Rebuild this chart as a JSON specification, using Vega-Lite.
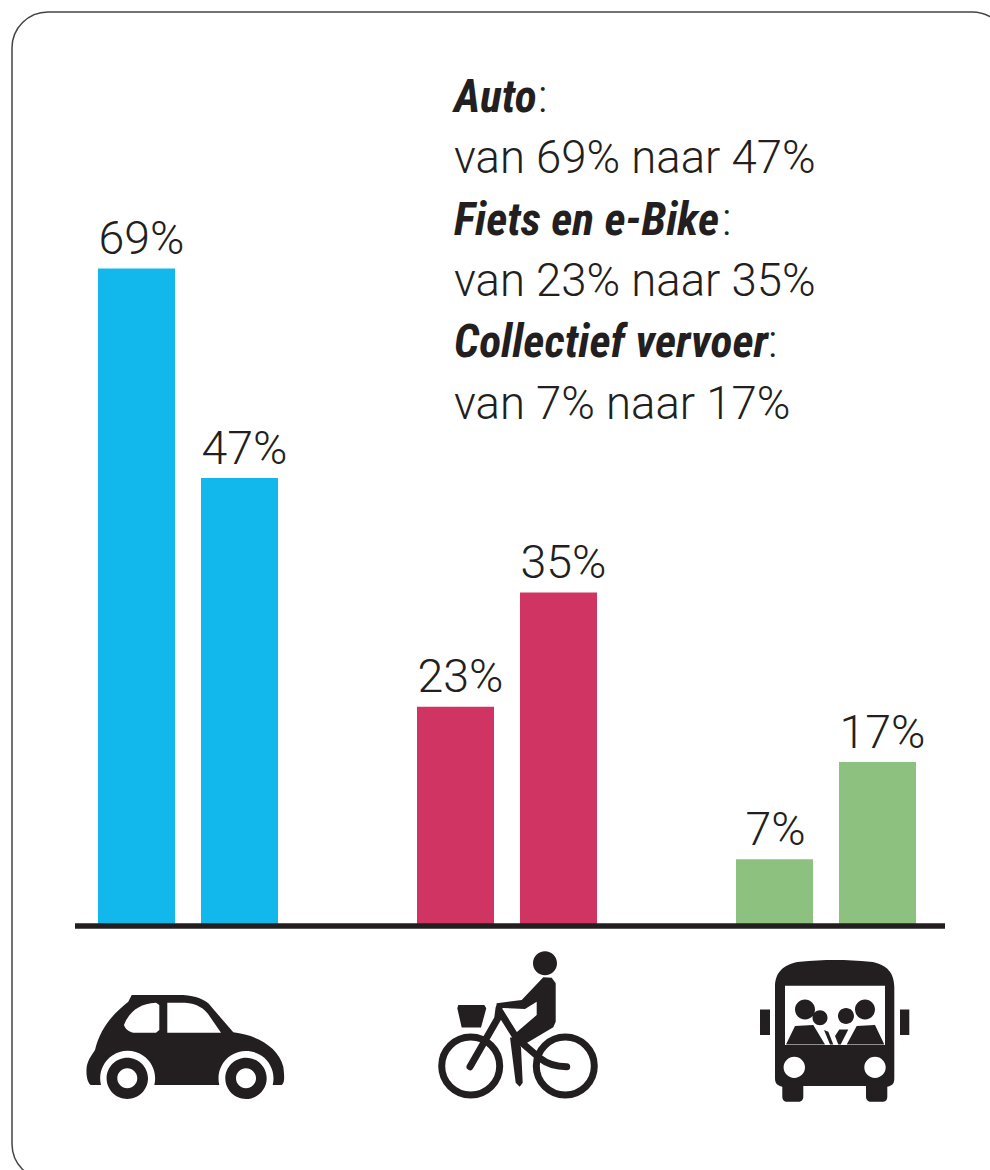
{
"$schema":"https://vega.github.io/schema/vega-lite/v6.json",
"width":996,"height":1168,
"autosize":{"type":"none"},
"padding":{"left":12,"top":12,"right":0,"bottom":0},
"background":"white",
"config":{"view":{"stroke":"#444444","strokeWidth":1.5,"cornerRadius":36,"fill":"white"}},
"datasets":{
"aandelen":[
{"vervoer":"Auto","periode":"voor","aandeel":69,"label":"69%"},
{"vervoer":"Auto","periode":"na","aandeel":47,"label":"47%"},
{"vervoer":"Fiets","periode":"voor","aandeel":23,"label":"23%"},
{"vervoer":"Fiets","periode":"na","aandeel":35,"label":"35%"},
{"vervoer":"Collectief","periode":"voor","aandeel":7,"label":"7%"},
{"vervoer":"Collectief","periode":"na","aandeel":17.2,"label":"17%"}],
"tekst":[
{"regel":1,"soort":"kop","tekst":"Auto"},
{"regel":2,"soort":"zin","tekst":"van 69% naar 47%"},
{"regel":3,"soort":"kop","tekst":"Fiets en e-Bike"},
{"regel":4,"soort":"zin","tekst":"van 23% naar 35%"},
{"regel":5,"soort":"kop","tekst":"Collectief vervoer"},
{"regel":6,"soort":"zin","tekst":"van 7% naar 17%"}]
},
"encoding":{
"x":{"field":"vervoer","type":"nominal","axis":null,"scale":{"type":"band","domain":["Auto","Fiets","Collectief"],"range":[16.5,973.5],"paddingInner":0,"paddingOuter":0}}
},
"layer":[
{"encoding":{
"y":{"type":"quantitative","axis":null,"scale":{"domain":[-26.65,95.9],"range":[1168,0],"nice":false,"zero":false}}
},
"layer":[
{"data":{"name":"aandelen"},
 "mark":{"type":"bar","cornerRadius":0},
 "encoding":{
  "xOffset":{"field":"periode","type":"nominal","scale":{"type":"band","domain":["voor","na"],"range":[69.5,249.5],"paddingInner":0.2524,"paddingOuter":0}},
  "y":{"field":"aandeel","type":"quantitative"},
  "y2":{"datum":0},
  "color":{"field":"vervoer","type":"nominal","legend":null,"scale":{"domain":["Auto","Fiets","Collectief"],"range":["#12b7ec","#cf3462","#8cc17f"]}}
 }},
{"data":{"name":"aandelen"},
 "transform":[{"filter":"datum.label !== '7%'"}],
 "mark":{"type":"text","font":"Roboto","fontWeight":300,"fontSize":46.5,"align":"center","baseline":"alphabetic","dx":5,"dy":-14.5,"color":"#231f20"},
 "encoding":{
  "xOffset":{"field":"periode","type":"nominal","scale":{"type":"band","domain":["voor","na"],"range":[69.5,249.5],"paddingInner":0.2524,"paddingOuter":0}},
  "y":{"field":"aandeel","type":"quantitative"},
  "text":{"field":"label"}
 }},
{"data":{"name":"aandelen"},
 "transform":[{"filter":"datum.label === '7%'"}],
 "mark":{"type":"text","font":"Roboto","fontWeight":300,"fontSize":46.5,"align":"center","baseline":"alphabetic","dx":1,"dy":-14.5,"color":"#231f20"},
 "encoding":{
  "xOffset":{"field":"periode","type":"nominal","scale":{"type":"band","domain":["voor","na"],"range":[69.5,249.5],"paddingInner":0.2524,"paddingOuter":0}},
  "y":{"field":"aandeel","type":"quantitative"},
  "text":{"field":"label"}
 }},
{"data":{"values":[{"van":"Auto","tot":"Collectief","nul":0}]},
 "mark":{"type":"rule","strokeWidth":5.5,"color":"#231f20","xOffset":-113,"x2Offset":119},
 "encoding":{
  "x":{"field":"van","type":"nominal"},
  "x2":{"field":"tot"},
  "y":{"field":"nul","type":"quantitative"}
 }},
{"data":{"values":[{"vervoer":"Auto","plek":-14}]},
 "mark":{"type":"point","filled":true,"size":4,"opacity":1,"color":"#231f20","strokeWidth":0,
 "shape":"M-56.3,-64.4 L-4.7,-64.4 C8.7,-63.4 15.3,-60 20.3,-56.1 L45.3,-27.1 C68.7,-24.4 90.3,-12.7 95.3,7.3 C97,20.6 96,24 93.7,25.6 L84.7,25.6 A27.5,27.5 0 1 0 31.3,25.6 L-33.7,25.6 A27.5,27.5 0 1 0 -87,25.6 L-97.3,25.6 C-101.3,22.3 -102,14 -101.3,7.3 C-99.7,-1.1 -94.7,-6.1 -93,-9.4 C-88,-31 -74.7,-46 -59.7,-57.7 Z M-81.4,18.9 a20.7,20.7 0 1 0 41.4,0 a20.7,20.7 0 1 0 -41.4,0 Z M37.3,18.9 a20.7,20.7 0 1 0 41.4,0 a20.7,20.7 0 1 0 -41.4,0 Z"},
 "encoding":{"y":{"field":"plek","type":"quantitative"}}},
{"data":{"values":[{"vervoer":"Auto","plek":-14}]},
 "mark":{"type":"point","filled":true,"size":4,"opacity":1,"color":"white","strokeWidth":0,
 "shape":"M-32,-56.7 L-28.7,-54.4 L-28.7,-29.4 L-32,-26.7 L-54.7,-26.7 C-59.7,-27.7 -63,-31 -64,-34.4 C-59.7,-46 -49.7,-56.1 -32,-56.7 Z M-20.7,-56.7 L-3,-56.7 C8.7,-56 17,-51 22,-42.7 L33,-26.7 L-20.7,-26.7 Z M-70.7,18.9 a10,10 0 1 0 20,0 a10,10 0 1 0 -20,0 Z M48,18.9 a10,10 0 1 0 20,0 a10,10 0 1 0 -20,0 Z"},
 "encoding":{"y":{"field":"plek","type":"quantitative"}}},
{"data":{"values":[{"vervoer":"Fiets","plek":-14}]},
 "mark":{"type":"point","filled":true,"size":4,"opacity":1,"color":"#231f20","strokeWidth":0,
 "shape":"M36.3,-82.1 L14.7,-59.4 L-10.3,-56.1 L-11,-51.7 L18,-50.4 L29.7,-57.7 L29.7,-44.4 L7.3,-25.1 L5.3,-19.4 L14.7,-13.4 L46.3,-32.1 L48.7,-37.7 L48.7,-76.1 L44.7,-81.7 Z M3,-22 L8.7,23.3 L12.7,27.3 L15.7,23.3 L14,-12 L10,-22 Z M-48.7,-54.4 L-22.7,-54.4 L-20.7,-51.1 L-26,-32 L-45.3,-32 L-49.7,-51.1 Z M26,-96.1 a12,12 0 1 0 24,0 a12,12 0 1 0 -24,0 Z"},
 "encoding":{"y":{"field":"plek","type":"quantitative"}}},
{"data":{"values":[{"vervoer":"Fiets","plek":-14}]},
 "mark":{"type":"point","filled":false,"size":4,"opacity":1,"stroke":"#231f20","strokeWidth":7,"strokeCap":"round","strokeJoin":"round","fill":null,
 "shape":"M-65.3,6.6 a29,29 0 1 0 58,0 a29,29 0 1 0 -58,0 Z M29.3,6.6 a29,29 0 1 0 58,0 a29,29 0 1 0 -58,0 Z M-37,7.3 L-9.3,-41 L-8,-51 M-7,-47.7 L9.7,-21.1 L33,-1.1 C41.3,5.6 49.7,7.3 59.7,7.3"},
 "encoding":{"y":{"field":"plek","type":"quantitative"}}},
{"data":{"values":[{"vervoer":"Collectief","plek":-14}]},
 "mark":{"type":"point","filled":true,"size":4,"opacity":1,"color":"#231f20","strokeWidth":0,
 "shape":"M-51,-72.7 C-51,-89.4 -39.3,-96.1 -26,-97.7 C-2.7,-100 20.7,-100 44,-97.7 C57.3,-96.1 68.3,-89.4 68.3,-72.7 L68.3,18.9 C68.3,24 67,26 61.3,27.3 L61.3,37.3 C61.3,40 60,42.3 57.3,42.3 L44.7,42.3 C42,42.3 40,40 40,37.3 L40,26.6 L-22.7,26.6 L-22.7,37.3 C-22.7,40 -24.5,42.3 -27,42.3 L-39.3,42.3 C-42,42.3 -43.7,40 -43.7,37.3 L-43.7,27.3 C-49,26 -51,24 -51,18.9 Z M-66,-50 L-56,-50 L-56,-24.4 L-66,-24.4 Z M74,-50 L83.3,-50 L83.3,-24.4 L74,-24.4 Z"},
 "encoding":{"y":{"field":"plek","type":"quantitative"}}},
{"data":{"values":[{"vervoer":"Collectief","plek":-14}]},
 "mark":{"type":"point","filled":true,"size":4,"opacity":1,"color":"white","strokeWidth":0,
 "shape":"M-41,-73.7 L59,-73.7 L59,-14.4 L-41,-14.4 Z M-42.4,7.9 a10.7,10.7 0 1 0 21.4,0 a10.7,10.7 0 1 0 -21.4,0 Z M38.3,7.9 a10.7,10.7 0 1 0 21.4,0 a10.7,10.7 0 1 0 -21.4,0 Z"},
 "encoding":{"y":{"field":"plek","type":"quantitative"}}},
{"data":{"values":[{"vervoer":"Collectief","plek":-14}]},
 "mark":{"type":"point","filled":true,"size":4,"opacity":1,"color":"#231f20","strokeWidth":0,
 "shape":"M-31,-50 a10,10 0 1 0 20,0 a10,10 0 1 0 -20,0 Z M-13.5,-41.7 a7.5,7.5 0 1 0 15,0 a7.5,7.5 0 1 0 -15,0 Z M29,-50 a10,10 0 1 0 20,0 a10,10 0 1 0 -20,0 Z M12,-43.4 a8,8 0 1 0 16,0 a8,8 0 1 0 -16,0 Z M-40,-15 L-31,-33.4 L-12.7,-34.4 L-1,-15 Z M20.7,-15 L30.7,-33.4 L49,-34.4 L58.3,-15 Z M-2,-29.4 L2.3,-27.7 L7.3,-15 L4,-15 Z M9,-23.4 L13.3,-30 L22.3,-30 L14.7,-15 L12.3,-15 Z"},
 "encoding":{"y":{"field":"plek","type":"quantitative"}}}
]},
{"data":{"name":"tekst"},
 "encoding":{
  "x":{"datum":"Fiets"},
  "y":{"field":"regel","type":"ordinal","axis":null,"scale":{"type":"point","domain":[1,2,3,4,5,6],"range":[100,406.5],"padding":0}},
  "text":{"field":"tekst"}
 },
 "layer":[
 {"transform":[{"filter":"datum.soort === 'zin'"}],
  "mark":{"type":"text","font":"Roboto","fontWeight":300,"fontSize":45.5,"align":"left","baseline":"alphabetic","dx":-53,"color":"#231f20"}},
 {"transform":[{"filter":"datum.soort === 'kop'"}],
  "mark":{"type":"text","font":"Roboto Condensed","fontWeight":"bold","fontStyle":"italic","fontSize":45.5,"align":"left","baseline":"alphabetic","dx":-53,"color":"#231f20"}},
 {"transform":[{"filter":"datum.regel === 1"},{"calculate":"':'","as":"tekst"}],
  "mark":{"type":"text","font":"Roboto","fontWeight":300,"fontSize":45.5,"align":"left","baseline":"alphabetic","dx":31,"color":"#231f20"}},
 {"transform":[{"filter":"datum.regel === 3"},{"calculate":"':'","as":"tekst"}],
  "mark":{"type":"text","font":"Roboto","fontWeight":300,"fontSize":45.5,"align":"left","baseline":"alphabetic","dx":215,"color":"#231f20"}},
 {"transform":[{"filter":"datum.regel === 5"},{"calculate":"':'","as":"tekst"}],
  "mark":{"type":"text","font":"Roboto","fontWeight":300,"fontSize":45.5,"align":"left","baseline":"alphabetic","dx":261,"color":"#231f20"}}
 ]}
],
"resolve":{"scale":{"y":"independent"}}
}
